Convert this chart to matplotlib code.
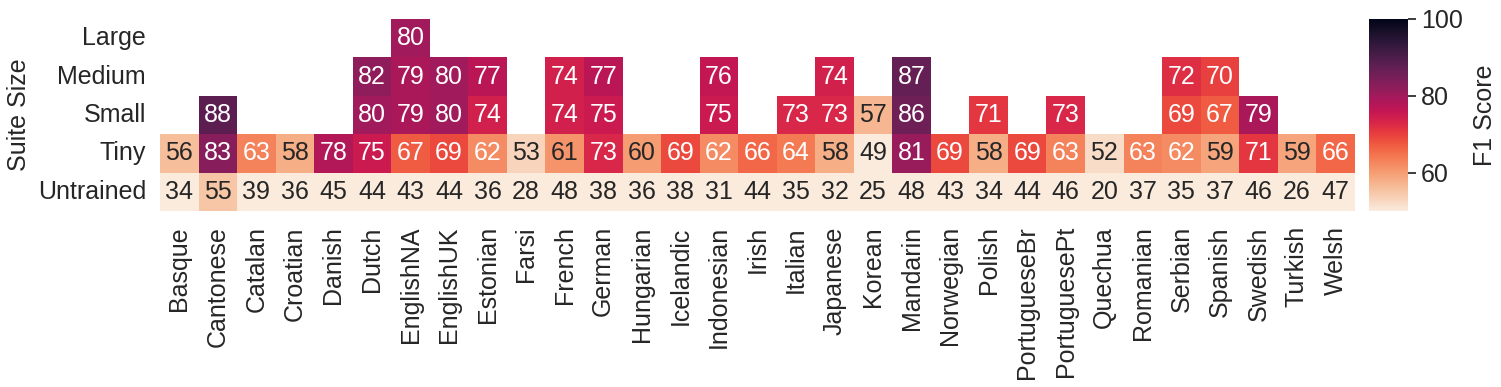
import numpy as np
import pandas as pd
import matplotlib
matplotlib.use("Agg")
import matplotlib.pyplot as plt
import seaborn as sns

sns.set_theme(style="ticks", font_scale=1.6)
plt.rcParams["font.family"] = ["Liberation Sans", "DejaVu Sans"]
FS = 18

languages = ["Basque", "Cantonese", "Catalan", "Croatian", "Danish", "Dutch",
             "EnglishNA", "EnglishUK", "Estonian", "Farsi", "French", "German",
             "Hungarian", "Icelandic", "Indonesian", "Irish", "Italian", "Japanese",
             "Korean", "Mandarin", "Norwegian", "Polish", "PortugueseBr",
             "PortuguesePt", "Quechua", "Romanian", "Serbian", "Spanish",
             "Swedish", "Turkish", "Welsh"]
sizes = ["Large", "Medium", "Small", "Tiny", "Untrained"]

large = {"EnglishNA": 80}
medium = {"Dutch": 82, "EnglishNA": 79, "EnglishUK": 80, "Estonian": 77,
          "French": 74, "German": 77, "Indonesian": 76, "Japanese": 74,
          "Mandarin": 87, "Serbian": 72, "Spanish": 70}
small = {"Cantonese": 88, "Dutch": 80, "EnglishNA": 79, "EnglishUK": 80,
         "Estonian": 74, "French": 74, "German": 75, "Indonesian": 75,
         "Italian": 73, "Japanese": 73, "Korean": 57, "Mandarin": 86,
         "Polish": 71, "PortuguesePt": 73, "Serbian": 69, "Spanish": 67,
         "Swedish": 79}
tiny = [56, 83, 63, 58, 78, 75, 67, 69, 62, 53, 61, 73, 60, 69, 62, 66,
        64, 58, 49, 81, 69, 58, 69, 63, 52, 63, 62, 59, 71, 59, 66]
untrained = [34, 55, 39, 36, 45, 44, 43, 44, 36, 28, 48, 38, 36, 38, 31, 44,
             35, 32, 25, 48, 43, 34, 44, 46, 20, 37, 35, 37, 46, 26, 47]

df = pd.DataFrame(np.nan, index=sizes, columns=languages)
for k, v in large.items():
    df.loc["Large", k] = v
for k, v in medium.items():
    df.loc["Medium", k] = v
for k, v in small.items():
    df.loc["Small", k] = v
df.loc["Tiny"] = tiny
df.loc["Untrained"] = untrained

fig = plt.figure(figsize=(15.01, 3.87), dpi=100)
ax = fig.add_axes([0.1066, 0.455, 0.796, 0.496])
cax = fig.add_axes([0.912, 0.455, 0.026, 0.496])
sns.heatmap(df, ax=ax, cbar_ax=cax, cmap="rocket_r", vmin=50, vmax=100,
            annot=True, fmt=".0f", annot_kws={"fontsize": FS})
ax.set_ylabel("Suite Size", fontsize=FS, labelpad=5)
ax.set_xlabel("")
ax.tick_params(axis="y", rotation=0, length=0, pad=10, labelsize=FS)
ax.tick_params(axis="x", rotation=90, length=0, pad=11, labelsize=FS)
cax.set_yticks([60, 80, 100])
cax.tick_params(length=6, labelsize=FS)
cax.set_ylabel("F1 Score", fontsize=FS, labelpad=7)

fig.savefig("out.png", dpi=100)
